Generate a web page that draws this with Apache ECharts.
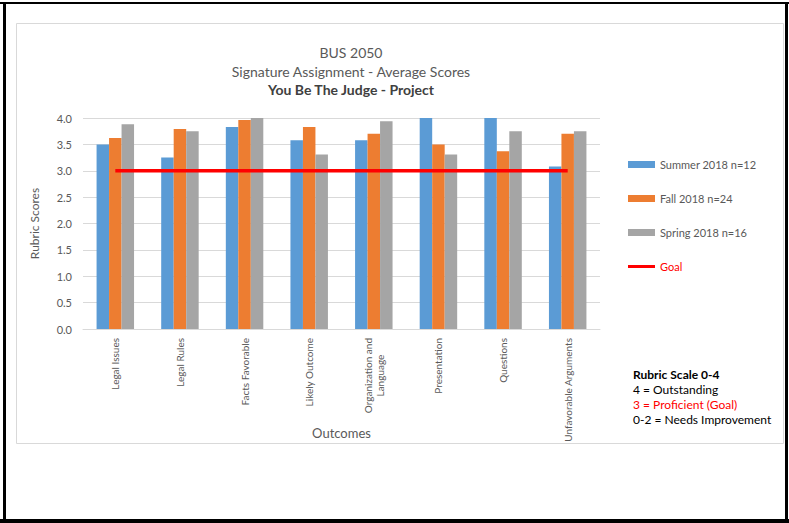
<!DOCTYPE html>
<html>
<head>
<meta charset="utf-8">
<script src="https://cdn.jsdelivr.net/npm/echarts@6/dist/echarts.min.js"></script>
<style>
html,body{margin:0;padding:0;background:#fff;}
#chart{width:789px;height:523px;}
</style>
</head>
<body>
<div id="chart"></div>
<script>
const categories = ['Legal Issues','Legal Rules','Facts Favorable','Likely Outcome','Organization and Language','Presentation','Questions','Unfavorable Arguments'];
const summer2018 = [3.50, 3.25, 3.83, 3.58, 3.58, 4.00, 4.00, 3.08];
const fall2018   = [3.62, 3.79, 3.96, 3.83, 3.70, 3.50, 3.37, 3.70];
const spring2018 = [3.88, 3.75, 4.00, 3.31, 3.94, 3.31, 3.75, 3.75];
const goal       = [3, 3, 3, 3, 3, 3, 3, 3];
const yTicks = {min: 0, max: 4, interval: 0.5};
const seriesNames = ['Summer 2018 n=12','Fall 2018 n=24','Spring 2018 n=16','Goal'];
const titleLines = ['BUS 2050','Signature Assignment - Average Scores','You Be The Judge - Project'];
const rubricLines = ['Rubric Scale 0-4','4 = Outstanding','3 = Proficient (Goal)','0-2 = Needs Improvement'];

const FONT = 'Lato, "Open Sans", sans-serif';
const GRAY = '#595959';

const chart = echarts.init(document.getElementById('chart'), null, {renderer: 'svg'});
chart.setOption({
  backgroundColor: '#fff',
  animation: false,
  textStyle: {fontFamily: FONT},
  grid: {left: 83, right: 189, top: 118, bottom: 194, containLabel: false},
  legend: {
    orient: 'vertical', left: 623, top: 154, itemGap: 23,
    itemWidth: 27, itemHeight: 7, symbolKeepAspect: true,
    textStyle: {color: GRAY, fontSize: 11, fontFamily: FONT},
    data: [
      {name: seriesNames[0], icon: 'rect'},
      {name: seriesNames[1], icon: 'rect'},
      {name: seriesNames[2], icon: 'rect'},
      {name: seriesNames[3], icon: 'path://M0 0H27V3H0Z', textStyle: {color: '#ff0000'}}
    ]
  },
  xAxis: {
    type: 'category', data: categories,
    name: 'Outcomes', nameLocation: 'middle', nameGap: 97, nameMoveOverlap: false,
    nameTextStyle: {color: GRAY, fontSize: 13, fontFamily: FONT},
    axisLine: {lineStyle: {color: '#d9d9d9'}},
    axisTick: {show: false},
    axisLabel: {
      rotate: 90, color: GRAY, fontSize: 10, margin: 9, fontFamily: FONT,
      interval: 0,
      formatter: function (v) {
        if (v === 'Organization and Language') return '{a|Organization and}\n{b|Language}';
        return v;
      },
      rich: {
        a: {color: GRAY, fontSize: 10, fontFamily: FONT, lineHeight: 12},
        b: {color: GRAY, fontSize: 10, fontFamily: FONT, lineHeight: 12, align: 'center'}
      }
    }
  },
  yAxis: {
    type: 'value', min: yTicks.min, max: yTicks.max, interval: yTicks.interval,
    name: 'Rubric Scores', nameLocation: 'middle', nameGap: 43, nameMoveOverlap: false,
    nameTextStyle: {color: GRAY, fontSize: 12, fontFamily: FONT},
    axisLine: {show: false}, axisTick: {show: false},
    axisLabel: {color: GRAY, fontSize: 11, margin: 11, fontFamily: FONT, formatter: v => v.toFixed(1)},
    splitLine: {lineStyle: {color: '#d9d9d9'}}
  },
  series: [
    {name: seriesNames[0], type: 'bar', data: summer2018, itemStyle: {color: '#5b9bd5'}, barGap: '0%', barCategoryGap: '42%'},
    {name: seriesNames[1], type: 'bar', data: fall2018, itemStyle: {color: '#ed7d31'}, barGap: '0%', barCategoryGap: '42%'},
    {name: seriesNames[2], type: 'bar', data: spring2018, itemStyle: {color: '#a5a5a5'}, barGap: '0%', barCategoryGap: '42%'},
    {name: seriesNames[3], type: 'line', data: goal, symbol: 'none', z: 5,
     itemStyle: {color: '#ff0000'}, lineStyle: {color: '#ff0000', width: 3.5}}
  ],
  graphic: [
    {type: 'rect', silent: true, z: -1, shape: {x: 16.5, y: 23.5, width: 767, height: 420},
     style: {fill: 'none', stroke: '#d9d9d9', lineWidth: 1}},
    {type: 'rect', silent: true, shape: {x: 0, y: 2, width: 789, height: 2}, style: {fill: '#000'}},
    {type: 'rect', silent: true, shape: {x: 3, y: 2, width: 3, height: 521}, style: {fill: '#000'}},
    {type: 'rect', silent: true, shape: {x: 785, y: 2, width: 3, height: 521}, style: {fill: '#000'}},
    {type: 'rect', silent: true, shape: {x: 0, y: 519, width: 789, height: 4}, style: {fill: '#000'}},
    {type: 'text', silent: true, style: {x: 351, y: 52, text: titleLines[0], textAlign: 'center', textVerticalAlign: 'middle', fill: GRAY, font: '14px ' + FONT}},
    {type: 'text', silent: true, style: {x: 351, y: 71, text: titleLines[1], textAlign: 'center', textVerticalAlign: 'middle', fill: GRAY, font: '14px ' + FONT}},
    {type: 'text', silent: true, style: {x: 351, y: 89, text: titleLines[2], textAlign: 'center', textVerticalAlign: 'middle', fill: '#404040', font: 'bold 14px ' + FONT}},
    {type: 'text', silent: true, style: {x: 633, y: 374, text: rubricLines[0], textVerticalAlign: 'middle', fill: '#000', font: 'bold 12px ' + FONT}},
    {type: 'text', silent: true, style: {x: 633, y: 389, text: rubricLines[1], textVerticalAlign: 'middle', fill: '#000', font: '12px ' + FONT}},
    {type: 'text', silent: true, style: {x: 633, y: 404, text: rubricLines[2], textVerticalAlign: 'middle', fill: '#ff0000', font: '12px ' + FONT}},
    {type: 'text', silent: true, style: {x: 633, y: 419, text: rubricLines[3], textVerticalAlign: 'middle', fill: '#000', font: '12px ' + FONT}}
  ]
});
</script>
</body>
</html>
